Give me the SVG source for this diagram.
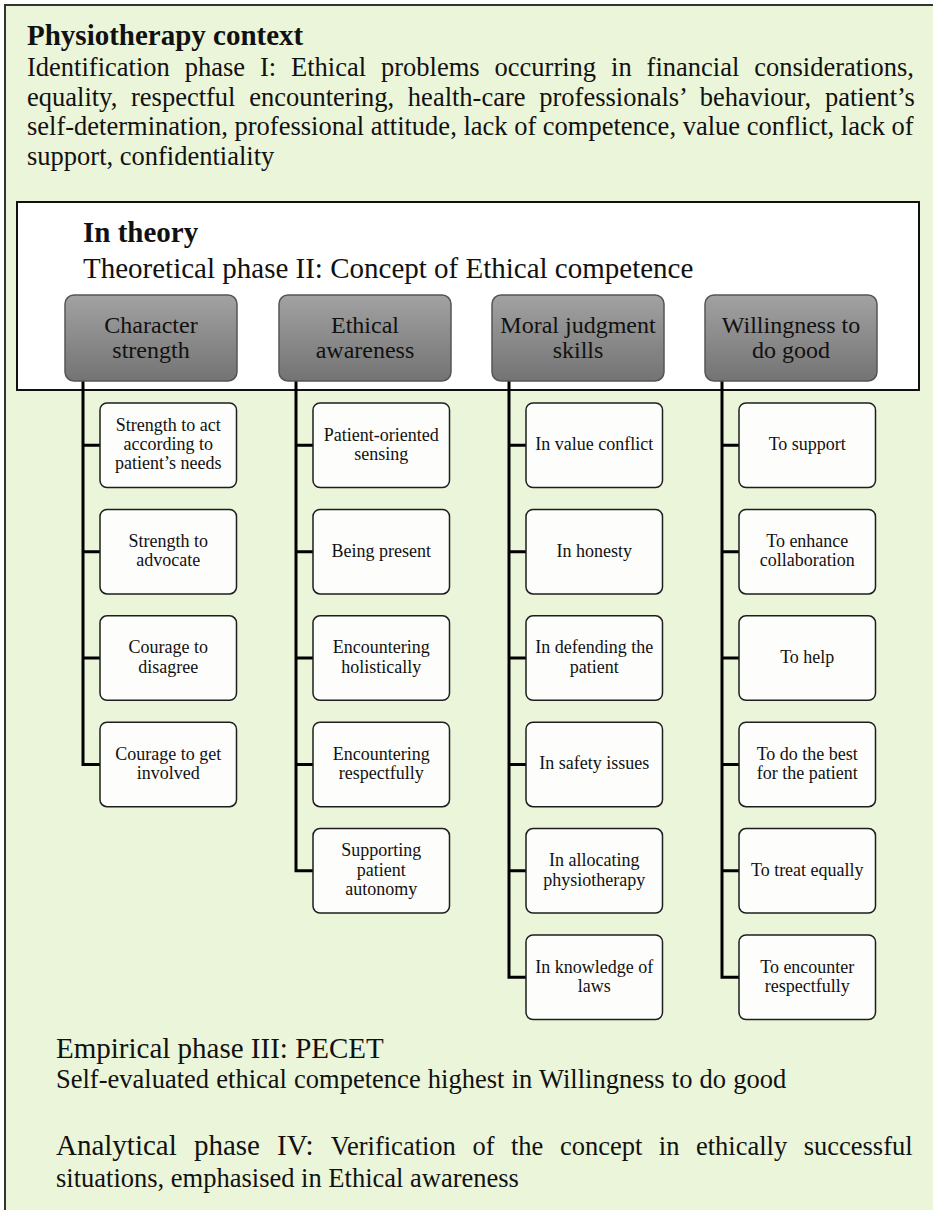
<svg xmlns="http://www.w3.org/2000/svg" width="933" height="1210" viewBox="0 0 933 1210">
  <defs>
    <linearGradient id="catFill" x1="0" y1="0" x2="0" y2="1">
      <stop offset="0" stop-color="#a2a2a2"/>
      <stop offset="1" stop-color="#737373"/>
    </linearGradient>
    <style>
      text { font-family: "Liberation Serif", "Times New Roman", serif; fill: #111; }
      .head { font-size: 29px; }
      .headb { font-size: 29px; font-weight: bold; }
      .body { font-size: 26.5px; }
      .cat rect { fill: url(#catFill); stroke: #555; stroke-width: 1.5; }
      .cat text { font-size: 24px; text-anchor: middle; }
      .item rect { fill: #fdfdfb; stroke: #1e1e1e; stroke-width: 1.5; }
      .item text { font-size: 18px; text-anchor: middle; }
      #connectors path { fill: none; stroke: #000; stroke-width: 3; stroke-linejoin: miter; }
    </style>
  </defs>

  <!-- outer context panel -->
  <g id="context">
    <rect x="5" y="5" width="940" height="1220" fill="#ebf5d9" stroke="#333" stroke-width="2"/>
    <text class="headb" x="27" y="45">Physiotherapy context</text>
    <text class="body" x="27" y="76" word-spacing="8.3">Identification phase I: Ethical problems occurring in financial considerations,</text>
    <text class="body" x="27" y="105.5" word-spacing="7.1">equality, respectful encountering, health-care professionals’ behaviour, patient’s</text>
    <text class="body" x="27" y="135">self-determination, professional attitude, lack of competence, value conflict, lack of</text>
    <text class="body" x="27" y="164.5">support, confidentiality</text>
  </g>

  <!-- theory panel -->
  <g id="theory">
    <rect x="17" y="202" width="902" height="188" fill="#fff" stroke="#111" stroke-width="2"/>
    <text class="headb" x="83" y="242">In theory</text>
    <text class="head" x="83" y="278">Theoretical phase II: Concept of Ethical competence</text>
  </g>

  <!-- tree connectors -->
  <g id="connectors">
    <path d="M83,381 V764.45 H100 M83,445.25 H100 M83,551.65 H100 M83,658.05 H100"/>
    <path d="M296,381 V870.85 H313 M296,445.25 H313 M296,551.65 H313 M296,658.05 H313 M296,764.45 H313"/>
    <path d="M509,381 V977.25 H526 M509,445.25 H526 M509,551.65 H526 M509,658.05 H526 M509,764.45 H526 M509,870.85 H526"/>
    <path d="M722,381 V977.25 H739 M722,445.25 H739 M722,551.65 H739 M722,658.05 H739 M722,764.45 H739 M722,870.85 H739"/>
  </g>

  <!-- category nodes -->
  <g id="cat-character" class="cat">
    <rect x="65" y="295" width="172" height="86" rx="9"/>
    <text><tspan x="151" y="332.5">Character</tspan><tspan x="151" y="357.5">strength</tspan></text>
  </g>
  <g id="cat-awareness" class="cat">
    <rect x="279" y="295" width="172" height="86" rx="9"/>
    <text><tspan x="365" y="332.5">Ethical</tspan><tspan x="365" y="357.5">awareness</tspan></text>
  </g>
  <g id="cat-judgment" class="cat">
    <rect x="492" y="295" width="172" height="86" rx="9"/>
    <text><tspan x="578" y="332.5">Moral judgment</tspan><tspan x="578" y="357.5">skills</tspan></text>
  </g>
  <g id="cat-willingness" class="cat">
    <rect x="705" y="295" width="172" height="86" rx="9"/>
    <text><tspan x="791" y="332.5">Willingness to</tspan><tspan x="791" y="357.5">do good</tspan></text>
  </g>

  <!-- Character strength items -->
  <g id="cs-1" class="item">
    <rect x="100" y="403" width="136.5" height="84.5" rx="7"/>
    <text><tspan x="168.25" y="430.7">Strength to act</tspan><tspan x="168.25" y="450">according to</tspan><tspan x="168.25" y="469.3">patient’s needs</tspan></text>
  </g>
  <g id="cs-2" class="item">
    <rect x="100" y="509.4" width="136.5" height="84.5" rx="7"/>
    <text><tspan x="168.25" y="547">Strength to</tspan><tspan x="168.25" y="566.3">advocate</tspan></text>
  </g>
  <g id="cs-3" class="item">
    <rect x="100" y="615.8" width="136.5" height="84.5" rx="7"/>
    <text><tspan x="168.25" y="653.4">Courage to</tspan><tspan x="168.25" y="672.7">disagree</tspan></text>
  </g>
  <g id="cs-4" class="item">
    <rect x="100" y="722.2" width="136.5" height="84.5" rx="7"/>
    <text><tspan x="168.25" y="759.8">Courage to get</tspan><tspan x="168.25" y="779.1">involved</tspan></text>
  </g>

  <!-- Ethical awareness items -->
  <g id="ea-1" class="item">
    <rect x="313" y="403" width="136.5" height="84.5" rx="7"/>
    <text><tspan x="381.25" y="440.6">Patient-oriented</tspan><tspan x="381.25" y="459.9">sensing</tspan></text>
  </g>
  <g id="ea-2" class="item">
    <rect x="313" y="509.4" width="136.5" height="84.5" rx="7"/>
    <text x="381.25" y="556.65">Being present</text>
  </g>
  <g id="ea-3" class="item">
    <rect x="313" y="615.8" width="136.5" height="84.5" rx="7"/>
    <text><tspan x="381.25" y="653.4">Encountering</tspan><tspan x="381.25" y="672.7">holistically</tspan></text>
  </g>
  <g id="ea-4" class="item">
    <rect x="313" y="722.2" width="136.5" height="84.5" rx="7"/>
    <text><tspan x="381.25" y="759.8">Encountering</tspan><tspan x="381.25" y="779.1">respectfully</tspan></text>
  </g>
  <g id="ea-5" class="item">
    <rect x="313" y="828.6" width="136.5" height="84.5" rx="7"/>
    <text><tspan x="381.25" y="856.25">Supporting</tspan><tspan x="381.25" y="875.55">patient</tspan><tspan x="381.25" y="894.85">autonomy</tspan></text>
  </g>

  <!-- Moral judgment skills items -->
  <g id="mj-1" class="item">
    <rect x="526" y="403" width="136.5" height="84.5" rx="7"/>
    <text x="594.25" y="450.25">In value conflict</text>
  </g>
  <g id="mj-2" class="item">
    <rect x="526" y="509.4" width="136.5" height="84.5" rx="7"/>
    <text x="594.25" y="556.65">In honesty</text>
  </g>
  <g id="mj-3" class="item">
    <rect x="526" y="615.8" width="136.5" height="84.5" rx="7"/>
    <text><tspan x="594.25" y="653.4">In defending the</tspan><tspan x="594.25" y="672.7">patient</tspan></text>
  </g>
  <g id="mj-4" class="item">
    <rect x="526" y="722.2" width="136.5" height="84.5" rx="7"/>
    <text x="594.25" y="769.45">In safety issues</text>
  </g>
  <g id="mj-5" class="item">
    <rect x="526" y="828.6" width="136.5" height="84.5" rx="7"/>
    <text><tspan x="594.25" y="866.2">In allocating</tspan><tspan x="594.25" y="885.5">physiotherapy</tspan></text>
  </g>
  <g id="mj-6" class="item">
    <rect x="526" y="935" width="136.5" height="84.5" rx="7"/>
    <text><tspan x="594.25" y="972.6">In knowledge of</tspan><tspan x="594.25" y="991.9">laws</tspan></text>
  </g>

  <!-- Willingness to do good items -->
  <g id="wg-1" class="item">
    <rect x="739" y="403" width="136.5" height="84.5" rx="7"/>
    <text x="807.25" y="450.25">To support</text>
  </g>
  <g id="wg-2" class="item">
    <rect x="739" y="509.4" width="136.5" height="84.5" rx="7"/>
    <text><tspan x="807.25" y="547">To enhance</tspan><tspan x="807.25" y="566.3">collaboration</tspan></text>
  </g>
  <g id="wg-3" class="item">
    <rect x="739" y="615.8" width="136.5" height="84.5" rx="7"/>
    <text x="807.25" y="663.05">To help</text>
  </g>
  <g id="wg-4" class="item">
    <rect x="739" y="722.2" width="136.5" height="84.5" rx="7"/>
    <text><tspan x="807.25" y="759.8">To do the best</tspan><tspan x="807.25" y="779.1">for the patient</tspan></text>
  </g>
  <g id="wg-5" class="item">
    <rect x="739" y="828.6" width="136.5" height="84.5" rx="7"/>
    <text x="807.25" y="875.85">To treat equally</text>
  </g>
  <g id="wg-6" class="item">
    <rect x="739" y="935" width="136.5" height="84.5" rx="7"/>
    <text><tspan x="807.25" y="972.6">To encounter</tspan><tspan x="807.25" y="991.9">respectfully</tspan></text>
  </g>

  <!-- later phases -->
  <g id="phases">
    <text class="head" x="56" y="1058">Empirical phase III: PECET</text>
    <text class="body" x="56" y="1088" word-spacing="0.6">Self-evaluated ethical competence highest in Willingness to do good</text>
    <text x="56" y="1155" word-spacing="9.9"><tspan class="head">Analytical phase IV: </tspan><tspan class="body">Verification of the concept in ethically successful</tspan></text>
    <text class="body" x="56" y="1187">situations, emphasised in Ethical awareness</text>
  </g>
</svg>
